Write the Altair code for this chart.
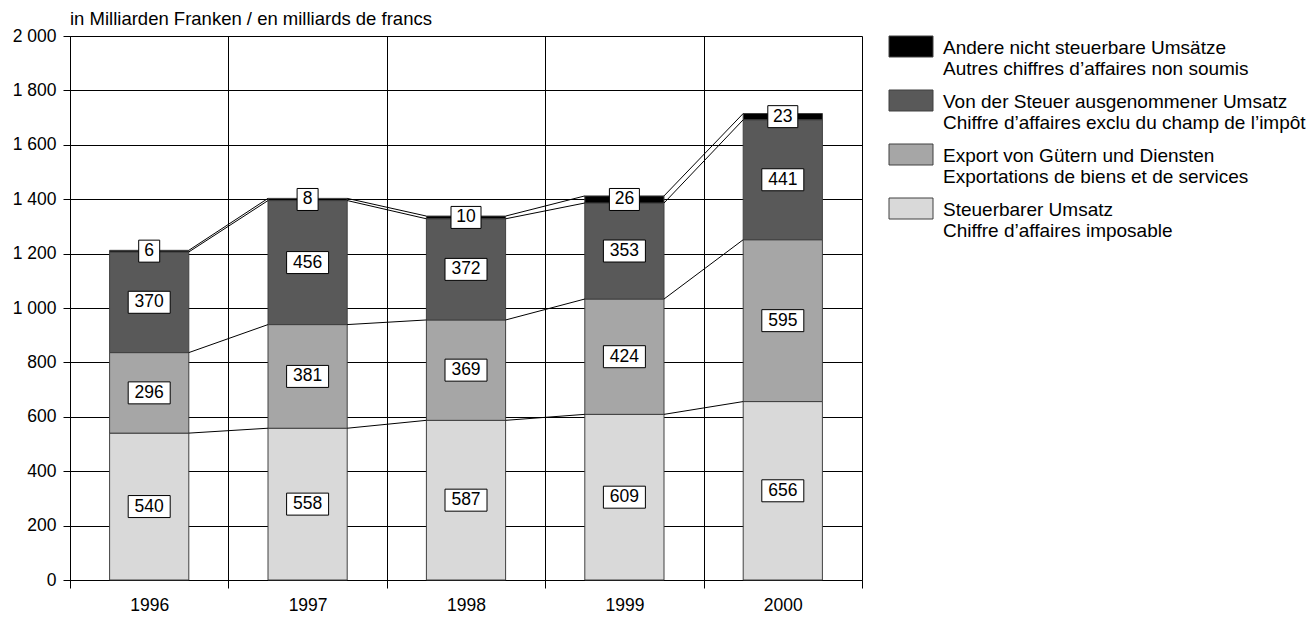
import json
import altair as alt
import pandas as pd

# ---------------- data ----------------
years = ["1996", "1997", "1998", "1999", "2000"]
steuerbar = [540, 558, 587, 609, 656]
export = [296, 381, 369, 424, 595]
ausgenommen = [370, 456, 372, 353, 441]
andere = [6, 8, 10, 26, 23]

series_keys = ["steuerbar", "export", "ausgenommen", "andere"]
series_de = [
    "Steuerbarer Umsatz",
    "Export von Gütern und Diensten",
    "Von der Steuer ausgenommener Umsatz",
    "Andere nicht steuerbare Umsätze",
]
series_fr = [
    "Chiffre d’affaires imposable",
    "Exportations de biens et de services",
    "Chiffre d’affaires exclu du champ de l’impôt",
    "Autres chiffres d’affaires non soumis",
]
colors = ["#d9d9d9", "#a6a6a6", "#595959", "#000000"]
y_ticks = [0, 200, 400, 600, 800, 1000, 1200, 1400, 1600, 1800, 2000]
unit_title = "in Milliarden Franken / en milliards de francs"

# ---------------- style ----------------
FONT = "Liberation Sans"
BAR_HALF = 0.25
W, H = 792, 544
BOX_W = {1: 21, 2: 30, 3: 42}
NUM_SIZE = 17.5
TXT_SIZE = 18.5
LEG_SIZE = 19

all_series = [steuerbar, export, ausgenommen, andere]

# stacked segments
seg_rows = []
for i, yr in enumerate(years):
    base = 0
    for key, vals in zip(series_keys, all_series):
        v = vals[i]
        lab = str(v)
        w = BOX_W[len(lab)]
        seg_rows.append(dict(
            i=i, year=yr, series=key, start=base, end=base + v,
            mid=base + v / 2, label=lab,
            box=f"M{-w/2},-11H{w/2}V11H{-w/2}Z",
        ))
        base += v
seg = pd.DataFrame(seg_rows)

# connector lines between bars at each cumulative level
con_rows = []
for lvl in range(len(series_keys)):
    cum = [sum(all_series[s][i] for s in range(lvl + 1)) for i in range(len(years))]
    for i in range(len(years) - 1):
        con_rows.append(dict(i=i, lvl=lvl, ya=cum[i], yb=cum[i + 1]))
con = pd.DataFrame(con_rows)

n = len(years)
x_vals = [k / 2 - 0.5 for k in range(2 * n + 1)]
half_test = "datum.value % 1 != 0"
x_scale = alt.Scale(domain=[-0.5, n - 0.5], nice=False, zero=False)
y_scale = alt.Scale(domain=[0, 2000], nice=False)

x_axis = alt.Axis(
    values=x_vals, grid=True, gridColor="black", gridWidth=1,
    gridOpacity={"condition": {"test": half_test, "value": 1}, "value": 0},
    tickOpacity={"condition": {"test": half_test, "value": 1}, "value": 0},
    tickSize=8, tickColor="black", domainColor="black",
    labelExpr="datum.value % 1 == 0 ? " + json.dumps(years) + "[datum.value] : ''",
    labelFontSize=NUM_SIZE, labelPadding=8, labelOverlap=False, labelFlush=False,
    labelColor="black", title=None,
)
y_axis = alt.Axis(
    values=y_ticks, grid=True, gridColor="black", gridWidth=1,
    tickSize=7, tickColor="black", domainColor="black",
    labelExpr="replace(format(datum.value, ','), ',', ' ')",
    labelFontSize=NUM_SIZE, labelPadding=7, labelColor="black", title=None,
)

bars = alt.Chart(seg).mark_rect(stroke="#404040", strokeWidth=1).transform_calculate(
    x0=f"datum.i - {BAR_HALF}", x1=f"datum.i + {BAR_HALF}"
).encode(
    x=alt.X("x0:Q", scale=x_scale, axis=x_axis),
    x2="x1:Q",
    y=alt.Y("start:Q", scale=y_scale, axis=y_axis),
    y2="end:Q",
    fill=alt.Fill("series:N", scale=alt.Scale(domain=series_keys, range=colors), legend=None),
)

rules = alt.Chart(con).mark_rule(color="black", strokeWidth=1).transform_calculate(
    xa=f"datum.i + {BAR_HALF}", xb=f"datum.i + 1 - {BAR_HALF}"
).encode(
    x=alt.X("xa:Q", scale=x_scale),
    x2="xb:Q",
    y=alt.Y("ya:Q", scale=y_scale),
    y2="yb:Q",
)

boxes = alt.Chart(seg).mark_point(
    filled=True, fill="white", stroke="black", strokeWidth=1, opacity=1
).encode(
    x=alt.X("i:Q", scale=x_scale),
    y=alt.Y("mid:Q", scale=y_scale),
    shape=alt.Shape("box:N", scale=None, legend=None),
    size=alt.value(4),
)

labels = alt.Chart(seg).mark_text(
    font=FONT, fontSize=NUM_SIZE, color="black", align="center", baseline="middle"
).encode(
    x=alt.X("i:Q", scale=x_scale),
    y=alt.Y("mid:Q", scale=y_scale),
    text="label:N",
)

title_mark = alt.Chart(pd.DataFrame({"t": [unit_title]})).mark_text(
    font=FONT, fontSize=TXT_SIZE, color="black", align="left", baseline="alphabetic"
).encode(x=alt.value(0), y=alt.value(-11), text="t:N")

main = alt.layer(bars, rules, boxes, labels, title_mark)

# ---------------- manual legend (top entry = top of stack) ----------------
leg = pd.DataFrame({
    "k": list(range(len(series_keys))),
    "de": series_de[::-1],
    "fr": series_fr[::-1],
    "color": colors[::-1],
})
leg_base = alt.Chart(leg).transform_calculate(
    py="datum.k * 54", py2="datum.k * 54 + 21",
    t1="datum.k * 54 + 18", t2="datum.k * 54 + 39",
)
swatch = leg_base.mark_rect(stroke="#404040", strokeWidth=1).encode(
    x=alt.value(819), x2=alt.value(863),
    y=alt.Y("py:Q", scale=None, axis=None), y2="py2:Q",
    fill=alt.Fill("color:N", scale=None, legend=None),
)
txt1 = leg_base.mark_text(
    font=FONT, fontSize=LEG_SIZE, color="black", align="left", baseline="alphabetic"
).encode(x=alt.value(873), y=alt.Y("t1:Q", scale=None, axis=None), text="de:N")
txt2 = leg_base.mark_text(
    font=FONT, fontSize=LEG_SIZE, color="black", align="left", baseline="alphabetic"
).encode(x=alt.value(873), y=alt.Y("t2:Q", scale=None, axis=None), text="fr:N")
legend = alt.layer(swatch, txt1, txt2)

chart = alt.layer(main, legend).resolve_scale(y="independent").properties(
    width=W, height=H,
    autosize=alt.AutoSizeParams(type="none"),
    padding={"left": 62, "top": 28, "right": 445, "bottom": 37},
).configure_view(stroke="black", strokeWidth=1).configure(
    font=FONT
).configure_axis(labelFont=FONT, domainWidth=1, tickWidth=1)

chart.save("out.html", embed_options={"renderer": "svg", "actions": False})
